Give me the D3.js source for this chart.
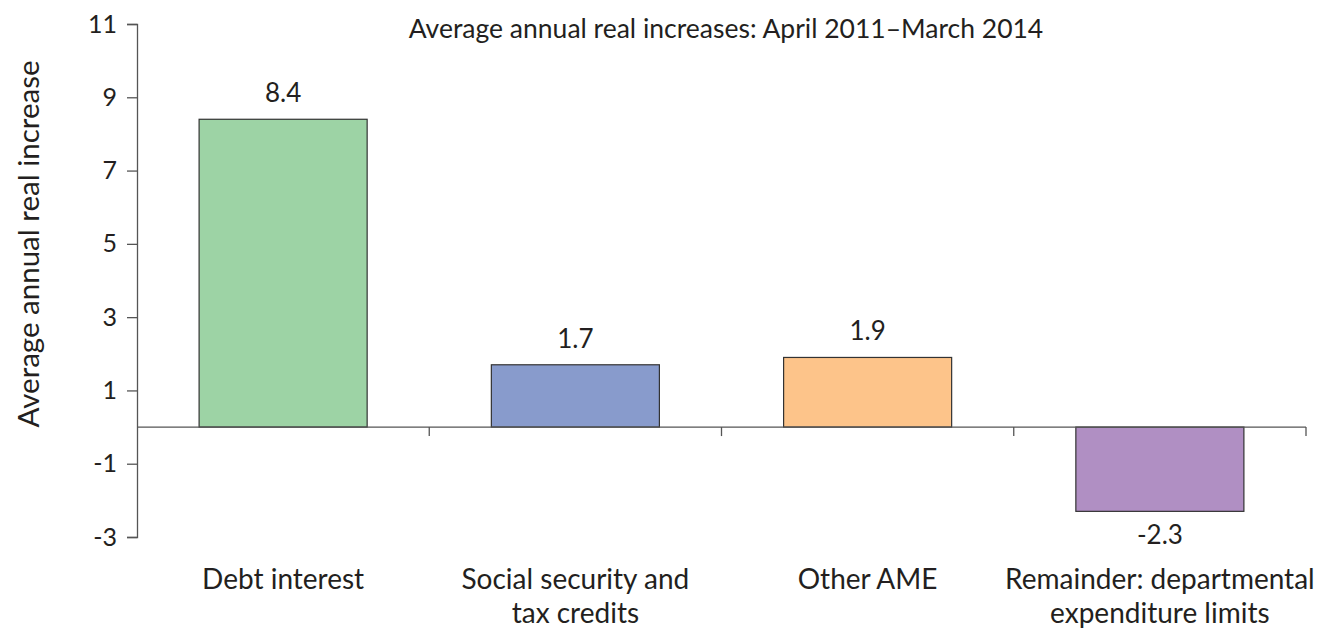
<!DOCTYPE html>
<html><head><meta charset="utf-8">
<script src="https://cdn.jsdelivr.net/npm/d3@7"></script>
<style>body{margin:0;background:#fff}svg{display:block}text{font-family:Lato,"Open Sans",sans-serif;fill:#231f20}</style>
</head><body>
<svg id="c" width="1331" height="628"></svg>
<script>
const categories = [["Debt interest"],["Social security and","tax credits"],["Other AME"],["Remainder: departmental","expenditure limits"]];
const values = [8.4, 1.7, 1.9, -2.3];
const labels = ["8.4","1.7","1.9","-2.3"];
const colors = ["#9dd3a5","#889bcc","#fdc48a","#b08fc3"];
const yTicks = [-3,-1,1,3,5,7,9,11];
const title = "Average annual real increases: April 2011\u2013March 2014";
const yTitle = "Average annual real increase";

const svg = d3.select("#c");
const x = d3.scaleBand().domain(d3.range(values.length)).range([137,1306]).padding(0);
const y = d3.scaleLinear().domain([-3,11]).range([537,24]);
const bw = x.bandwidth(), barW = bw*0.575, off = (bw-barW)/2;
const axisCol = "#555";

// y axis
const ya = svg.append("g").attr("transform","translate(137,0)")
  .call(d3.axisLeft(y).tickValues(yTicks).tickSize(10).tickPadding(10).tickFormat(d=>String(d)));
ya.select(".domain").attr("stroke",axisCol).attr("stroke-width",1.3);
ya.selectAll(".tick line").attr("stroke",axisCol).attr("stroke-width",1.3);
ya.selectAll(".tick text").style("font-size","25px").style("font-family","Lato,sans-serif").attr("fill","#231f20");

// bars
svg.selectAll("rect.bar").data(values).join("rect").attr("class","bar")
  .attr("x",(d,i)=>x(i)+off).attr("width",barW)
  .attr("y",d=>y(Math.max(0,d))).attr("height",d=>Math.abs(y(d)-y(0)))
  .attr("fill",(d,i)=>colors[i]).attr("stroke","#333").attr("stroke-width",1.2);

// x axis at zero
const xa = svg.append("g").attr("transform",`translate(0,${y(0)})`);
xa.append("line").attr("x1",137).attr("x2",1306).attr("stroke",axisCol).attr("stroke-width",1.3);
xa.selectAll("line.t").data(d3.range(values.length)).join("line").attr("class","t")
  .attr("x1",i=>x(i)+bw).attr("x2",i=>x(i)+bw).attr("y1",0).attr("y2",9)
  .attr("stroke",axisCol).attr("stroke-width",1.3);

// value labels
svg.selectAll("text.val").data(values).join("text").attr("class","val")
  .attr("x",(d,i)=>x(i)+bw/2)
  .attr("y",d=> d>=0 ? y(d)-17 : y(d)+33)
  .attr("text-anchor","middle").style("font-size","26px").text((d,i)=>labels[i]);

// category labels
svg.selectAll("text.cat").data(categories).join("text").attr("class","cat")
  .attr("x",(d,i)=>x(i)+bw/2).attr("y",589).attr("text-anchor","middle").style("font-size","28px")
  .each(function(d){
    const t=d3.select(this);
    d.forEach((s,k)=>t.append("tspan").attr("x",t.attr("x")).attr("dy",k?34:0).text(s));
  });

// title
svg.append("text").attr("x",726).attr("y",38).attr("text-anchor","middle").style("font-size","26.5px").text(title);
// y title
svg.append("text").attr("transform","translate(39,244) rotate(-90)").attr("text-anchor","middle").style("font-size","29.5px").text(yTitle);
</script>
</body></html>
